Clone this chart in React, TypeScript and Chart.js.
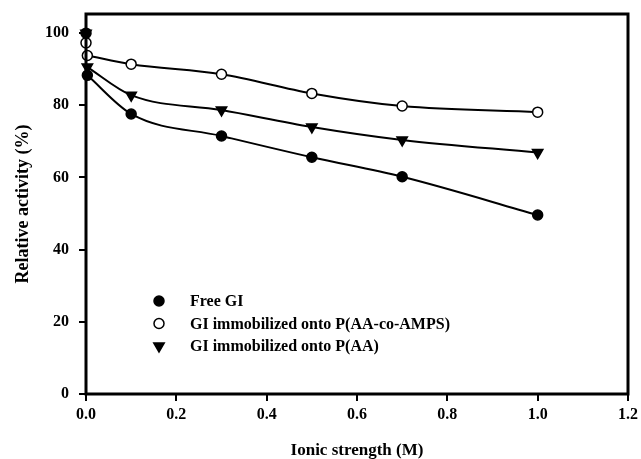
import React, { useEffect, useRef } from 'react';
import { Chart, registerables } from 'chart.js';

Chart.register(...registerables);

// Ionic strength (M)
const ionicX = [0.003, 0.1, 0.3, 0.5, 0.7, 1.0];
// Relative activity (%)
const freeGI = [88.3, 77.6, 71.5, 65.6, 60.2, 49.6];
const ampsGI = [93.8, 91.4, 88.6, 83.3, 79.8, 78.1];
const paaGI = [90.6, 82.8, 78.7, 74.0, 70.4, 66.9];

// replicate readings at (near) zero ionic strength
const freeEarlyX = [0];
const freeEarlyY = [100];
const ampsEarlyX = [0];
const ampsEarlyY = [97.3];
const paaEarlyX = [0];
const paaEarlyY = [100];

const seriesLabels = [
  'Free GI',
  'GI immobilized onto P(AA-co-AMPS)',
  'GI immobilized onto P(AA)',
];

const xTicks = [0, 0.2, 0.4, 0.6, 0.8, 1.0, 1.2];
const yTicks = [0, 20, 40, 60, 80, 100];

const FONT = '"Liberation Serif", "Times New Roman", serif';

const pts = (xs: number[], ys: number[]) => xs.map((x, i) => ({ x, y: ys[i] }));

type Style = { pointStyle: string; rotation: number; fill: string; radius: number };
const styles: Style[] = [
  { pointStyle: 'circle', rotation: 0, fill: '#000', radius: 5 },
  { pointStyle: 'circle', rotation: 0, fill: '#fff', radius: 5 },
  { pointStyle: 'triangle', rotation: 180, fill: '#000', radius: 6 },
];

function drawMarker(ctx: CanvasRenderingContext2D, s: Style, x: number, y: number) {
  ctx.save();
  ctx.fillStyle = s.fill;
  ctx.strokeStyle = '#000';
  ctx.lineWidth = 1.5;
  ctx.beginPath();
  if (s.pointStyle === 'circle') {
    ctx.arc(x, y, s.radius, 0, Math.PI * 2);
  } else {
    const r = s.radius;
    ctx.moveTo(x - r * 0.87, y - r * 0.5);
    ctx.lineTo(x + r * 0.87, y - r * 0.5);
    ctx.lineTo(x, y + r);
    ctx.closePath();
  }
  ctx.fill();
  ctx.stroke();
  ctx.restore();
}

const framePlugin = {
  id: 'frame',
  afterDraw(chart: any) {
    const { ctx, chartArea } = chart;
    ctx.save();
    ctx.strokeStyle = '#000';
    ctx.lineWidth = 3;
    ctx.strokeRect(chartArea.left, chartArea.top, chartArea.right - chartArea.left, chartArea.bottom - chartArea.top);
    ctx.restore();
  },
};

const legendPlugin = {
  id: 'customLegend',
  afterDraw(chart: any) {
    const { ctx } = chart;
    const mx = 159;
    const tx = 190;
    const y0 = 301;
    const dy = 22.5;
    ctx.save();
    ctx.font = `bold 16px ${FONT}`;
    ctx.fillStyle = '#000';
    ctx.textBaseline = 'middle';
    ctx.textAlign = 'left';
    seriesLabels.forEach((lab, i) => {
      const y = y0 + i * dy;
      drawMarker(ctx, styles[i], mx, y);
      ctx.fillText(lab, tx, y + 1);
    });
    ctx.restore();
  },
};

export default function App() {
  const ref = useRef<HTMLCanvasElement | null>(null);

  useEffect(() => {
    if (!ref.current) return;
    const series = [
      { label: seriesLabels[0], data: pts(ionicX, freeGI), early: pts(freeEarlyX, freeEarlyY), s: styles[0] },
      { label: seriesLabels[1], data: pts(ionicX, ampsGI), early: pts(ampsEarlyX, ampsEarlyY), s: styles[1] },
      { label: seriesLabels[2], data: pts(ionicX, paaGI), early: pts(paaEarlyX, paaEarlyY), s: styles[2] },
    ];
    const datasets: any[] = [];
    series.forEach((sr) => {
      const common = {
        pointStyle: sr.s.pointStyle,
        pointRotation: sr.s.rotation,
        pointRadius: sr.s.radius,
        pointBackgroundColor: sr.s.fill,
        pointBorderColor: '#000',
        pointBorderWidth: 1.5,
        clip: false,
      };
      datasets.push({
        label: sr.label,
        data: sr.data,
        showLine: true,
        borderColor: '#000',
        borderWidth: 2,
        cubicInterpolationMode: 'monotone',
        ...common,
      });
      datasets.push({
        label: sr.label + ' (0 M)',
        data: sr.early,
        showLine: false,
        ...common,
      });
    });

    const tickFont = { family: FONT, size: 16, weight: 'bold' as const };
    const chart = new Chart(ref.current, {
      type: 'scatter',
      data: { datasets },
      plugins: [framePlugin, legendPlugin],
      options: {
        responsive: false,
        animation: false,
        layout: { padding: { top: 14, right: 13, left: 0, bottom: 0 } },
        plugins: { legend: { display: false }, tooltip: { enabled: false } },
        scales: {
          x: {
            type: 'linear',
            min: 0,
            max: 1.2,
            afterFit: (s: any) => { s.height = 65; s.paddingLeft = 0; s.paddingRight = 0; },
            afterBuildTicks: (s: any) => { s.ticks = xTicks.map((v) => ({ value: v })); },
            ticks: {
              color: '#000',
              font: tickFont,
              padding: 4,
              maxRotation: 0,
              callback: (v: any) => Number(v).toFixed(1),
            },
            grid: { drawOnChartArea: false, drawTicks: true, tickLength: 7, color: '#000', lineWidth: 2 },
            border: { display: false },
            title: {
              display: true,
              text: 'Ionic strength (M)',
              color: '#000',
              font: { family: FONT, size: 17, weight: 'bold', lineHeight: 1 },
              padding: { top: 0, bottom: 0 },
            },
          },
          y: {
            type: 'linear',
            min: 0,
            max: 105.3,
            afterFit: (s: any) => { s.width = 86; s.paddingTop = 0; s.paddingBottom = 0; },
            afterBuildTicks: (s: any) => { s.ticks = yTicks.map((v) => ({ value: v })); },
            ticks: {
              color: '#000',
              font: tickFont,
              padding: 10,
              callback: (v: any) => String(v),
            },
            grid: { drawOnChartArea: false, drawTicks: true, tickLength: 7, color: '#000', lineWidth: 2 },
            border: { display: false },
            title: {
              display: true,
              text: 'Relative activity (%)',
              color: '#000',
              font: { family: FONT, size: 18, weight: 'bold', lineHeight: 1 },
              padding: { top: 14, bottom: 0 },
            },
          },
        },
      },
    } as any);
    return () => chart.destroy();
  }, []);

  return (
    <div style={{ position: 'fixed', left: 0, top: 0, width: 641, height: 459, background: '#fff' }}>
      <canvas ref={ref} width={641} height={459} />
    </div>
  );
}
